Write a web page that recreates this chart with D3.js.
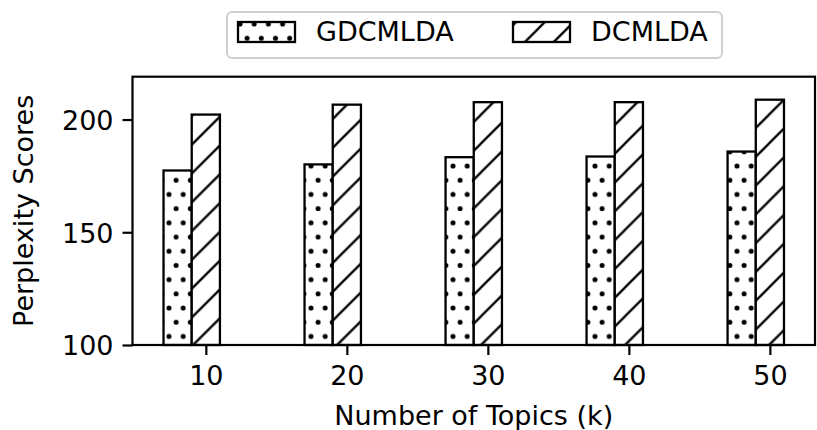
<!DOCTYPE html>
<html>
<head>
<meta charset="utf-8">
<script src="https://cdn.jsdelivr.net/npm/d3@7"></script>
<style>
  html, body { margin: 0; padding: 0; background: #fff; }
  svg { display: block; }
  text { font-family: "DejaVu Sans", sans-serif; fill: #000; }
</style>
</head>
<body>
<svg id="chart" width="817" height="430"></svg>
<script>
// ---- data ----
const topics = [10, 20, 30, 40, 50];
const gdcmlda = [177.4, 180.1, 183.3, 183.6, 185.8];
const dcmlda = [202.2, 206.6, 207.7, 207.7, 208.8];
const yTicks = [100, 150, 200];
const seriesNames = ["GDCMLDA", "DCMLDA"];

// ---- layout ----
const W = 817, H = 430;
const pL = 132.5, pR = 815, pT = 76.7, pB = 345;
const FS = 27;
const svg = d3.select("#chart");
svg.append("rect").attr("width", W).attr("height", H).attr("fill", "#fff");

const defs = svg.append("defs");
// diagonal hatch "/"
const p = 28.8;
const diag = defs.append("pattern").attr("id", "diag")
  .attr("patternUnits", "userSpaceOnUse").attr("width", p).attr("height", p)
  .attr("patternTransform", "translate(19.7,0)");
diag.append("path")
  .attr("d", `M0,${p} L${p},0 M-3,3 L3,-3 M${p-3},${p+3} L${p+3},${p-3}`)
  .attr("stroke", "#000").attr("stroke-width", 2.3).attr("fill", "none");
// dots hatch "."
const o = 14.2;
const dots = defs.append("pattern").attr("id", "dots")
  .attr("patternUnits", "userSpaceOnUse").attr("width", o).attr("height", 2 * o)
  .attr("patternTransform", "translate(12.8,24)");
[[0, 0], [o, 0], [0, 2 * o], [o, 2 * o], [o / 2, o]].forEach(([cx, cy]) => {
  dots.append("circle").attr("cx", cx).attr("cy", cy).attr("r", 2.5).attr("fill", "#000");
});

const x = d3.scaleLinear().domain([4.8, 53.2]).range([pL, pR]);
const y = d3.scaleLinear().domain([100, 219]).range([pB, pT]);
const bw = 2;

const g = svg.append("g");
const series = [
  { name: seriesNames[0], vals: gdcmlda, off: -2, pat: "dots" },
  { name: seriesNames[1], vals: dcmlda, off: 0, pat: "diag" }
];
series.forEach(s => {
  topics.forEach((t, i) => {
    const x0 = x(t + s.off - bw / 2), x1 = x(t + s.off + bw / 2);
    const y0 = y(s.vals[i]);
    g.append("rect").attr("x", x0).attr("y", y0).attr("width", x1 - x0).attr("height", pB - y0)
      .attr("fill", "#fff");
    g.append("rect").attr("x", x0).attr("y", y0).attr("width", x1 - x0).attr("height", pB - y0)
      .attr("fill", `url(#${s.pat})`).attr("stroke", "#000").attr("stroke-width", 2.3);
  });
});

// axes
const xAxis = d3.axisBottom(x).tickValues(topics).tickSize(10).tickPadding(9).tickFormat(d3.format("d"));
const yAxis = d3.axisLeft(y).tickValues(yTicks).tickSize(10).tickPadding(9).tickFormat(d3.format("d"));
const gx = svg.append("g").attr("transform", `translate(0,${pB})`).call(xAxis);
const gy = svg.append("g").attr("transform", `translate(${pL},0)`).call(yAxis);
[gx, gy].forEach(a => {
  a.select(".domain").remove();
  a.selectAll("line").attr("stroke", "#000").attr("stroke-width", 2.2);
  a.selectAll("text").style("font-family", "DejaVu Sans").style("font-size", FS + "px").attr("fill", "#000");
});
gx.selectAll("text").attr("dy", "0.76em");
gy.selectAll("text").attr("dy", "0.36em");

// frame
svg.append("rect").attr("x", pL).attr("y", pT).attr("width", pR - pL).attr("height", pB - pT)
  .attr("fill", "none").attr("stroke", "#000").attr("stroke-width", 2.2);

// axis labels
svg.append("text").attr("x", (pL + pR) / 2).attr("y", 425).attr("text-anchor", "middle")
  .style("font-size", FS + "px").text("Number of Topics (k)");
svg.append("text").attr("transform", `translate(33,${(pT + pB) / 2}) rotate(-90)`)
  .attr("text-anchor", "middle").style("font-size", FS + "px").text("Perplexity Scores");

// legend
const lg = svg.append("g");
lg.append("rect").attr("x", 227).attr("y", 12).attr("width", 495).attr("height", 46).attr("rx", 5)
  .attr("fill", "#fff").attr("stroke", "#d0d0d0").attr("stroke-width", 2);
const legendX = [238, 513];
series.forEach((s, i) => {
  lg.append("rect").attr("x", legendX[i]).attr("y", 22).attr("width", 57).attr("height", 20).attr("fill", "#fff");
  lg.append("rect").attr("x", legendX[i]).attr("y", 22).attr("width", 57).attr("height", 20)
    .attr("fill", `url(#${s.pat})`).attr("stroke", "#000").attr("stroke-width", 2.3);
  lg.append("text").attr("x", legendX[i] + 78).attr("y", 41).style("font-size", FS + "px").text(s.name);
});
</script>
</body>
</html>
